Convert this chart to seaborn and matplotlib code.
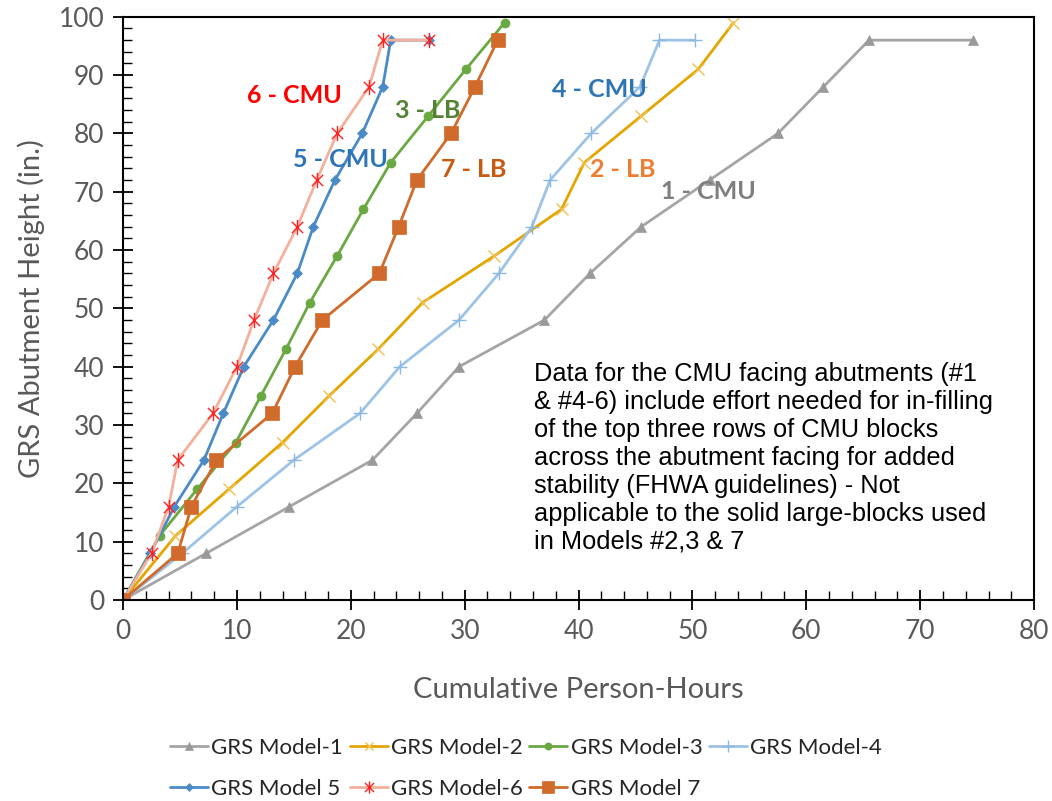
import numpy as np
import pandas as pd
import matplotlib
matplotlib.use("Agg")
import matplotlib.pyplot as plt
from matplotlib.path import Path
import seaborn as sns

# ---- data ----
m1_x = [0, 7.3, 14.6, 21.9, 25.8, 29.5, 37.0, 41.0, 45.5, 51.5, 57.5, 61.5, 65.5, 74.6]
m1_y = [0, 8, 16, 24, 32, 40, 48, 56, 64, 72, 80, 88, 96, 96]
m2_x = [0, 4.6, 9.3, 14.0, 18.1, 22.4, 26.3, 32.6, 38.5, 40.5, 45.5, 50.5, 53.6]
m2_y = [0, 11, 19, 27, 35, 43, 51, 59, 67, 75, 83, 91, 99]
m3_x = [0, 3.2, 6.5, 9.9, 12.1, 14.3, 16.4, 18.8, 21.1, 23.5, 26.8, 30.1, 33.5]
m3_y = [0, 11, 19, 27, 35, 43, 51, 59, 67, 75, 83, 91, 99]
m4_x = [0, 5.2, 10.0, 15.0, 20.8, 24.3, 29.5, 33.0, 35.9, 37.5, 41.1, 45.4, 47.1, 50.2]
m4_y = [0, 8, 16, 24, 32, 40, 48, 56, 64, 72, 80, 88, 96, 96]
m5_x = [0, 2.4, 4.5, 7.1, 8.8, 10.6, 13.2, 15.3, 16.7, 18.6, 21.0, 22.8, 23.5, 26.9]
m5_y = [0, 8, 16, 24, 32, 40, 48, 56, 64, 72, 80, 88, 96, 96]
m6_x = [0, 2.5, 4.0, 4.8, 7.9, 10.0, 11.5, 13.2, 15.3, 17.0, 18.8, 21.6, 22.8, 26.9]
m6_y = [0, 8, 16, 24, 32, 40, 48, 56, 64, 72, 80, 88, 96, 96]
m7_x = [0, 4.8, 6.0, 8.2, 13.1, 15.1, 17.5, 22.5, 24.2, 25.8, 28.8, 30.9, 32.9]
m7_y = [0, 8, 16, 24, 32, 40, 48, 56, 64, 72, 80, 88, 96]

series_names = ["GRS Model-1", "GRS Model-2", "GRS Model-3", "GRS Model-4",
                "GRS Model 5", "GRS Model-6", "GRS Model 7"]

labels_txt = ["6 - CMU", "5 - CMU", "3 - LB", "7 - LB", "4 - CMU", "2 - LB", "1 - CMU"]
labels_x = [10.9, 14.9, 23.9, 27.9, 37.7, 41.0, 47.2]
labels_y = [86.5, 75.6, 84.0, 73.8, 87.6, 73.9, 70.0]

note = ("Data for the CMU facing abutments (#1\n"
        "& #4-6) include effort needed for in-filling\n"
        "of the top three rows of CMU blocks\n"
        "across the abutment facing for added\n"
        "stability (FHWA guidelines) - Not\n"
        "applicable to the solid large-blocks used\n"
        "in Models #2,3 & 7")

# ---- style ----
sns.set_theme(style="white")
plt.rcParams['font.family'] = ['Lato', 'DejaVu Sans']

fig, ax = plt.subplots(figsize=(10.52, 8.01), dpi=100)
fig.subplots_adjust(left=0.117, right=0.983, top=0.979, bottom=0.251)

star = Path([(-1, -1), (1, 1), (-1, 1), (1, -1), (0, -1.35), (0, 1.35)],
            [Path.MOVETO, Path.LINETO] * 3)

styles = [
    dict(color="#A5A5A5", marker="^", ms=7, mfc="#9A9A9A", mec="#9A9A9A", mew=0.5),
    dict(color="#E3A600", marker="x", ms=8, mfc="none", mec="#F0C050", mew=1.0),
    dict(color="#6AA842", marker="o", ms=6.5, mfc="#6AA842", mec="#6AA842", mew=0.5),
    dict(color="#9DC3E6", marker="+", ms=10, mfc="none", mec="#8DB8E3", mew=1.0),
    dict(color="#4A8BC7", marker="D", ms=5.5, mfc="#4A8BC7", mec="#4A8BC7", mew=0.5),
    dict(color="#F4B09A", marker=star, ms=11, mfc="none", mec="#FF2020", mew=1.0),
    dict(color="#D06B2B", marker="s", ms=10, mfc="#D06B2B", mec="#D06B2B", mew=0.5),
]
all_x = [m1_x, m2_x, m3_x, m4_x, m5_x, m6_x, m7_x]
all_y = [m1_y, m2_y, m3_y, m4_y, m5_y, m6_y, m7_y]

for name, xs, ys, st in zip(series_names, all_x, all_y, styles):
    sns.lineplot(x=xs, y=ys, ax=ax, label=name, color=st["color"], lw=2.0,
                 marker=st["marker"], markersize=st["ms"], markerfacecolor=st["mfc"],
                 markeredgecolor=st["mec"], markeredgewidth=st["mew"],
                 estimator=None, sort=False, legend=False)

label_colors = ["#FF0000", "#2E75B6", "#548235", "#C55A11", "#2E75B6", "#ED7D31", "#7F7F7F"]
for t, lx, ly, c in zip(labels_txt, labels_x, labels_y, label_colors):
    ax.text(lx, ly, t, color=c, fontsize=18, fontweight="bold", ha="left", va="center")

ax.text(36.1, 40.8, note, fontsize=18.3, family=["Liberation Sans", "DejaVu Sans"],
        color="black", ha="left", va="top", linespacing=1.21)

ax.set_xlim(0, 80)
ax.set_ylim(0, 100)
ax.set_xticks(np.arange(0, 81, 10))
ax.set_yticks(np.arange(0, 101, 10))
ax.set_xticks(np.arange(0, 81, 2), minor=True)
ax.set_yticks(np.arange(0, 101, 2), minor=True)
ax.tick_params(which="major", direction="inout", length=15, width=1.3, color="black",
               labelsize=19, labelcolor="#595959", pad=6)
ax.tick_params(which="minor", direction="in", length=6.5, width=1.0, color="black")
ax.tick_params(axis="x", which="both", bottom=True, top=False)
ax.tick_params(axis="y", which="both", left=True, right=False)
for s in ax.spines.values():
    s.set_color("black")
    s.set_linewidth(1.5)

ax.set_xlabel("Cumulative Person-Hours", fontsize=21, color="#595959", labelpad=24)
ax.set_ylabel("GRS Abutment Height (in.)", fontsize=21, color="#595959", labelpad=10)

handles, labels = ax.get_legend_handles_labels()
order = [0, 4, 1, 5, 2, 6, 3]
fig.legend([handles[i] for i in order], [labels[i] for i in order],
           loc="lower center", bbox_to_anchor=(0.5, -0.022), ncol=4,
           frameon=False, fontsize=16, handlelength=1.7, handletextpad=0.15,
           columnspacing=0.3, labelspacing=0.95, markerscale=0.8)

fig.savefig("out.png", dpi=100, facecolor="white")
